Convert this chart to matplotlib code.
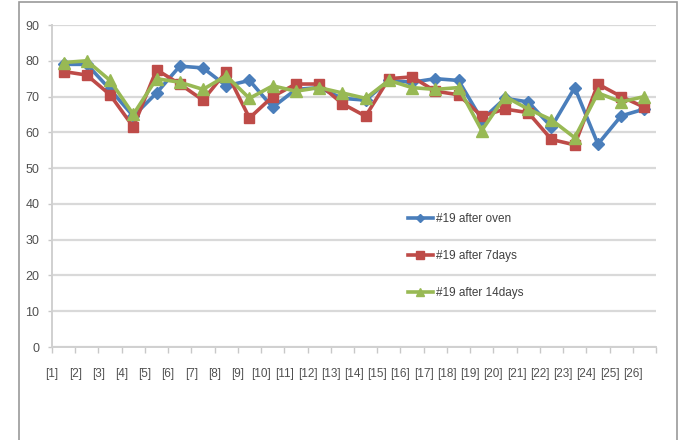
import matplotlib
matplotlib.use("Agg")
import matplotlib.pyplot as plt
from matplotlib.patches import Rectangle
from matplotlib import font_manager

# Sample labels and measured values
categories = [f"[{i}]" for i in range(1, 27)]
after_oven = [79, 79, 72, 64.5, 71, 78.5, 78, 73, 74.5, 67, 72, 72.5, 69.5,
              69, 74.5, 74, 75, 74.5, 63.5, 69.5, 68.5, 61.5, 72.5, 56.7, 64.6, 66.5]
after_7days = [77, 76, 70.5, 61.5, 77.5, 73.5, 69, 77, 64, 70, 73.5, 73.5, 68,
               64.5, 75, 75.5, 71.5, 70.5, 64.5, 66.5, 65.5, 58, 56.5, 73.5, 70, 67]
after_14days = [79.5, 80, 74.5, 65, 75, 74, 72, 75.8, 69.5, 73, 71.5, 72.5, 71,
                69.5, 74.5, 72.5, 72, 72.5, 60.5, 70, 66.5, 63.5, 58.5, 71, 68.5, 70]
series_names = ["#19 after oven", "#19 after 7days", "#19 after 14days"]
yticks = list(range(0, 91, 10))

available = {f.name for f in font_manager.fontManager.ttflist}
family = [f for f in ["Liberation Sans Narrow", "Liberation Sans", "DejaVu Sans"] if f in available]
plt.rcParams["font.family"] = family

fig = plt.figure(figsize=(6.8, 4.4), dpi=100)
fig.patch.set_facecolor("white")

# outer chart frame
fig.add_artist(Rectangle((19 / 680, -0.01), (677 - 19) / 680, 1 - 2 / 440 + 0.01,
                         transform=fig.transFigure, fill=False,
                         edgecolor="#9a9a9a", linewidth=1.2))

ax = fig.add_axes([52 / 680, 1 - 347 / 440, (656 - 52) / 680, (347 - 25) / 440])
x = list(range(len(categories)))

styles = [
    (after_oven, "#4A7EBB", "D", 6.5),
    (after_7days, "#BE4B48", "s", 7.5),
    (after_14days, "#98B954", "^", 8),
]
for (vals, color, marker, ms), name in zip(styles, series_names):
    ax.plot(x, vals, color=color, marker=marker, markersize=ms, linewidth=2.6,
            markeredgecolor=color, label=name, zorder=3)

ax.set_xlim(-0.5, len(categories) - 0.5)
ax.set_ylim(0, 90)
ax.set_yticks(yticks)
ax.set_yticklabels([str(v) for v in yticks])
ax.yaxis.grid(True, color="#d9d9d9", linewidth=1.6)
ax.set_axisbelow(True)

# category labels sit on the tick marks between points
bounds = [i - 0.5 for i in range(len(categories) + 1)]
ax.set_xticks(bounds)
ax.set_xticklabels(categories + [""])

for side in ["top", "right"]:
    ax.spines[side].set_visible(False)
for side in ["left", "bottom"]:
    ax.spines[side].set_color("#d0d0d0")
    ax.spines[side].set_linewidth(1.4)

ax.tick_params(axis="x", direction="out", length=4, color="#c8c8c8", width=1,
               labelsize=8.5, labelcolor="#505050", pad=11)
ax.tick_params(axis="y", direction="out", length=3, color="#c8c8c8", width=1,
               labelsize=9, labelcolor="#505050", pad=6)

ax.legend(loc="upper left", bbox_to_anchor=(0.571, 0.45), frameon=False,
          fontsize=8.5, labelspacing=2.15, handlelength=2.2, handletextpad=0.2,
          markerscale=0.7, labelcolor="#404040")

fig.savefig("out.png", dpi=100)
